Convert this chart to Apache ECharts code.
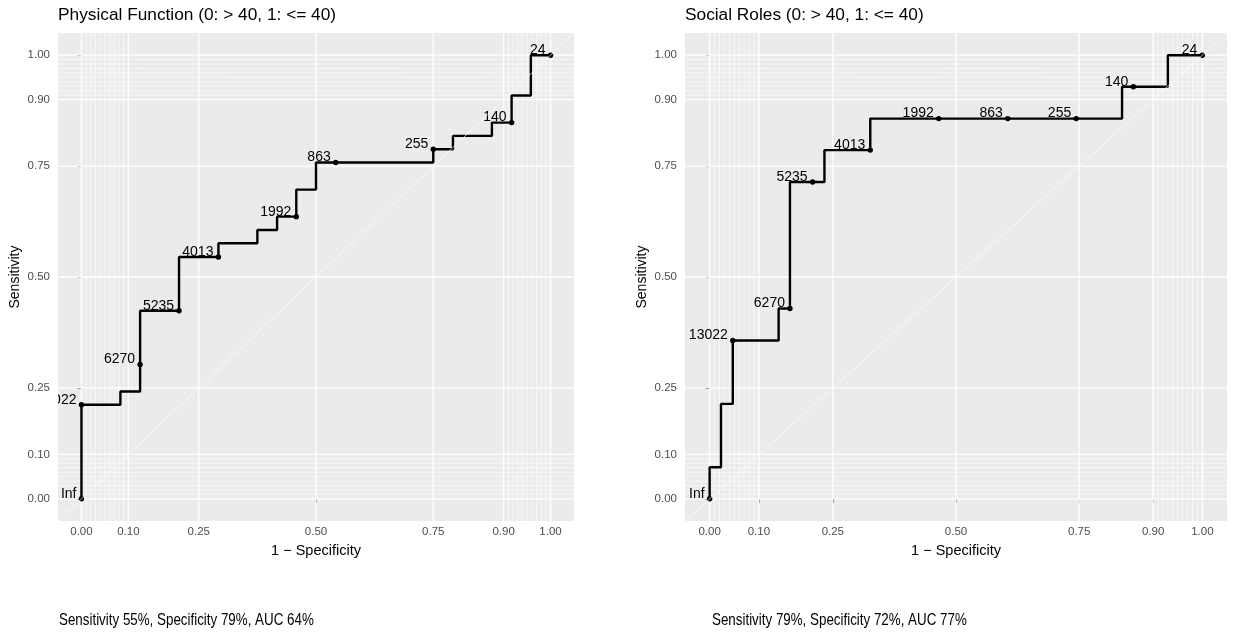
<!DOCTYPE html>
<html><head><meta charset="utf-8">
<script src="https://cdn.jsdelivr.net/npm/echarts@6/dist/echarts.min.js"></script>
<style>html,body{margin:0;padding:0;background:#fff}#c{width:1233px;height:635px}</style>
</head><body><div id="c"></div>
<script>
// ---- data ----
const tickValues = [0, 0.1, 0.25, 0.5, 0.75, 0.9, 1];
const minorValues = [0.01, 0.02, 0.03, 0.04, 0.05, 0.06, 0.07, 0.08, 0.09,
                     0.91, 0.92, 0.93, 0.94, 0.95, 0.96, 0.97, 0.98, 0.99];

const panelTitles = ['Physical Function (0: > 40, 1: <= 40)', 'Social Roles (0: > 40, 1: <= 40)'];
const summaries = ['Sensitivity 55%, Specificity 79%, AUC 64%', 'Sensitivity 79%, Specificity 72%, AUC 77%'];

// Physical Function: ROC path vertices (1 - specificity, sensitivity)
const pfFpr = [0, 0, 0.083, 0.083, 0.125, 0.125, 0.208, 0.208, 0.292, 0.292, 0.375, 0.375, 0.417, 0.417, 0.458, 0.458, 0.5, 0.5, 0.75, 0.75, 0.792, 0.792, 0.875, 0.875, 0.917, 0.917, 0.958, 0.958, 1];
const pfTpr = [0, 0.212, 0.212, 0.242, 0.242, 0.424, 0.424, 0.545, 0.545, 0.576, 0.576, 0.606, 0.606, 0.636, 0.636, 0.697, 0.697, 0.758, 0.758, 0.788, 0.788, 0.818, 0.818, 0.848, 0.848, 0.909, 0.909, 1, 1];
const pfCutLabels = ['Inf', '13022', '6270', '5235', '4013', '1992', '863', '255', '140', '24'];
const pfCutFpr = [0, 0, 0.125, 0.208, 0.292, 0.458, 0.542, 0.75, 0.917, 1];
const pfCutTpr = [0, 0.212, 0.303, 0.424, 0.545, 0.636, 0.758, 0.788, 0.848, 1];

// Social Roles
const srFpr = [0, 0, 0.023, 0.023, 0.047, 0.047, 0.140, 0.140, 0.163, 0.163, 0.233, 0.233, 0.326, 0.326, 0.837, 0.837, 0.930, 0.930, 1];
const srTpr = [0, 0.071, 0.071, 0.214, 0.214, 0.357, 0.357, 0.429, 0.429, 0.714, 0.714, 0.786, 0.786, 0.857, 0.857, 0.929, 0.929, 1, 1];
const srCutLabels = ['Inf', '13022', '6270', '5235', '4013', '1992', '863', '255', '140', '24'];
const srCutFpr = [0, 0.047, 0.163, 0.209, 0.326, 0.465, 0.605, 0.744, 0.860, 1];
const srCutTpr = [0, 0.357, 0.429, 0.714, 0.786, 0.857, 0.857, 0.857, 0.929, 1];

// ---- chart ----
const FONT = '"Liberation Sans", Arial, Helvetica, sans-serif';
const pair = (a, b) => a.map((v, i) => [v, b[i]]);

function gridSeries(idx) {
  // each item: [break value, orientation (0 = vertical, 1 = horizontal), line width]
  const data = [];
  minorValues.forEach(v => { data.push([v, 0, 0.6]); data.push([v, 1, 0.6]); });
  tickValues.forEach(v => { data.push([v, 0, 1.3]); data.push([v, 1, 1.3]); });
  return {
    type: 'custom', xAxisIndex: idx, yAxisIndex: idx, data: data, z: 1, silent: true,
    encode: {x: 0, y: 1},
    renderItem: function (params, api) {
      const cs = params.coordSys;
      const v = api.value(0), o = api.value(1), w = api.value(2);
      let shape;
      if (o === 0) {
        const x = api.coord([v, 0])[0];
        shape = {x1: x, y1: cs.y, x2: x, y2: cs.y + cs.height};
      } else {
        const y = api.coord([0, v])[1];
        shape = {x1: cs.x, y1: y, x2: cs.x + cs.width, y2: y};
      }
      return {type: 'line', shape: shape, style: {stroke: '#ffffff', lineWidth: w}};
    }
  };
}
function curveSeries(idx, fpr, tpr) {
  return {type: 'line', xAxisIndex: idx, yAxisIndex: idx, data: pair(fpr, tpr), showSymbol: false,
    lineStyle: {color: '#000', width: 2.4}, z: 2, silent: true, clip: true};
}
function cutSeries(idx, labels, fpr, tpr) {
  return {
    type: 'custom', xAxisIndex: idx, yAxisIndex: idx, data: pair(fpr, tpr), clip: true, z: 3, silent: true,
    renderItem: function (params, api) {
      const p = api.coord([api.value(0), api.value(1)]);
      return {type: 'group', children: [
        {type: 'circle', shape: {cx: p[0], cy: p[1], r: 2.7}, style: {fill: '#000'}},
        {type: 'text', x: p[0] - 5, y: p[1] + 2, style: {text: labels[params.dataIndex], align: 'right',
          verticalAlign: 'bottom', font: '14px ' + FONT, fill: '#000'}}
      ]};
    }
  };
}
function diagSeries(idx) {
  return {type: 'line', xAxisIndex: idx, yAxisIndex: idx, data: [[-0.05, -0.05], [1.05, 1.05]], showSymbol: false,
    lineStyle: {color: '#ffffff', width: 0.7}, z: 4, silent: true};
}
function xAxis(idx) {
  return {type: 'value', gridIndex: idx, min: -0.05, max: 1.05, name: '1 \u2212 Specificity',
    nameLocation: 'middle', nameGap: 22, nameTextStyle: {fontSize: 14.5, color: '#000', fontFamily: FONT},
    axisLine: {show: false}, splitLine: {show: false},
    axisTick: {show: true, customValues: tickValues, length: 4, lineStyle: {color: '#333', width: 1}},
    axisLabel: {customValues: tickValues, formatter: v => v.toFixed(2), margin: 5, fontSize: 11.5, color: '#4d4d4d', fontFamily: FONT}};
}
function yAxis(idx) {
  return {type: 'value', gridIndex: idx, min: -0.05, max: 1.05, name: 'Sensitivity',
    nameLocation: 'middle', nameGap: 36, nameTextStyle: {fontSize: 14, color: '#000', fontFamily: FONT},
    axisLine: {show: false}, splitLine: {show: false},
    axisTick: {show: true, customValues: tickValues, length: 4, lineStyle: {color: '#333', width: 1}},
    axisLabel: {customValues: tickValues, formatter: v => v.toFixed(2), margin: 8, fontSize: 11.5, color: '#4d4d4d', fontFamily: FONT}};
}

const chart = echarts.init(document.getElementById('c'), null, {renderer: 'canvas'});
chart.setOption({
  animation: false,
  backgroundColor: '#ffffff',
  title: [
    {text: panelTitles[0], left: 58, top: 7, padding: 0, textStyle: {fontSize: 17.3, fontWeight: 'normal', color: '#000', fontFamily: FONT}},
    {text: panelTitles[1], left: 685, top: 7, padding: 0, textStyle: {fontSize: 17.3, fontWeight: 'normal', color: '#000', fontFamily: FONT}}
  ],
  graphic: [
    {type: 'text', x: 59, y: 620, scaleX: 0.81, silent: true,
      style: {text: summaries[0], font: '16.5px ' + FONT, fill: '#000', align: 'left', verticalAlign: 'middle'}},
    {type: 'text', x: 712, y: 620, scaleX: 0.81, silent: true,
      style: {text: summaries[1], font: '16.5px ' + FONT, fill: '#000', align: 'left', verticalAlign: 'middle'}}
  ],
  grid: [
    {left: 58, top: 33, width: 516, height: 488, show: true, backgroundColor: '#ebebeb', borderWidth: 0, containLabel: false},
    {left: 685, top: 33, width: 542, height: 488, show: true, backgroundColor: '#ebebeb', borderWidth: 0, containLabel: false}
  ],
  xAxis: [xAxis(0), xAxis(1)],
  yAxis: [yAxis(0), yAxis(1)],
  series: [
    gridSeries(0), gridSeries(1),
    curveSeries(0, pfFpr, pfTpr), curveSeries(1, srFpr, srTpr),
    cutSeries(0, pfCutLabels, pfCutFpr, pfCutTpr), cutSeries(1, srCutLabels, srCutFpr, srCutTpr),
    diagSeries(0), diagSeries(1)
  ]
});
</script></body></html>
